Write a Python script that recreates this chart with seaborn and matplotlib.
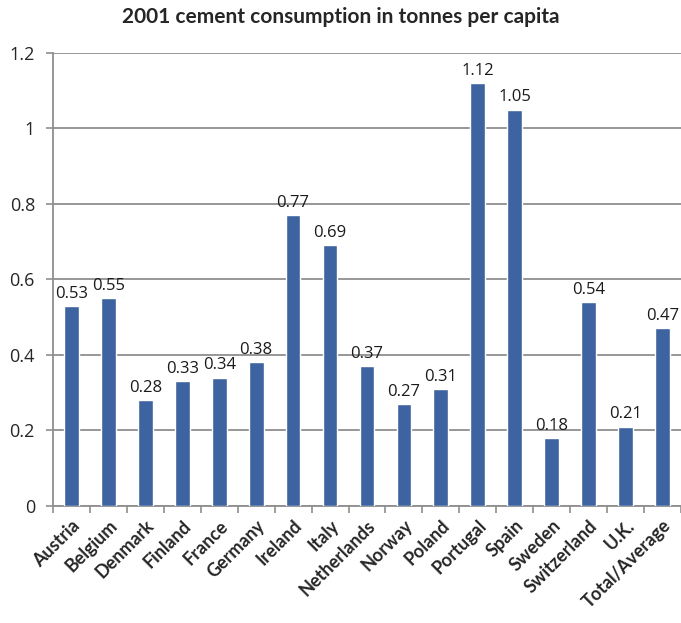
import matplotlib
matplotlib.use("Agg")
import matplotlib.pyplot as plt
import seaborn as sns
import pandas as pd

countries = ["Austria", "Belgium", "Denmark", "Finland", "France", "Germany",
             "Ireland", "Italy", "Netherlands", "Norway", "Poland", "Portugal",
             "Spain", "Sweden", "Switzerland", "U.K.", "Total/Average"]
consumption = [0.53, 0.55, 0.28, 0.33, 0.34, 0.38, 0.77, 0.69, 0.37, 0.27,
               0.31, 1.12, 1.05, 0.18, 0.54, 0.21, 0.47]
y_ticks = [0, 0.2, 0.4, 0.6, 0.8, 1, 1.2]
y_tick_labels = ["0", "0.2", "0.4", "0.6", "0.8", "1", "1.2"]
title = "2001 cement consumption in tonnes per capita"

df = pd.DataFrame({"country": countries, "t": consumption})

sns.set_style("white")
plt.rcParams["font.family"] = ["Lato", "DejaVu Sans"]

fig = plt.figure(figsize=(6.81, 6.23), dpi=100)
ax = fig.add_axes([0.0778, 0.188, 0.9222, 0.727])

bar_color = "#3D64A0"
sns.barplot(data=df, x="country", y="t", color=bar_color, width=0.4,
            saturation=1, ax=ax, zorder=3)

labels = [f"{v:.2f}" for v in consumption]
ax.bar_label(ax.containers[0], labels=labels, padding=3, fontsize=12,
             family="Open Sans", color="#1a1a1a")

ax.set_ylim(0, 1.2)
ax.set_xlim(-0.5, len(countries) - 0.5)
ax.set_yticks(y_ticks)
ax.set_yticklabels(y_tick_labels, fontsize=13, family="Open Sans")
ax.yaxis.grid(True, color="#8f8f8f", linewidth=1.3, zorder=0)
ax.set_axisbelow(True)

# Category labels at bar centres, tick marks between categories
ax.set_xticks(range(len(countries)))
ax.set_xticklabels(countries, rotation=45, ha="right", rotation_mode="anchor",
                   fontsize=13, fontweight="bold")
ax.tick_params(axis="x", length=0, pad=8)
ax.set_xticks([i - 0.5 for i in range(len(countries) + 1)], minor=True)
ax.tick_params(axis="x", which="minor", length=5, color="#8f8f8f", width=1.2,
               direction="out", bottom=True)
ax.tick_params(axis="y", length=5, color="#8f8f8f", width=1.2, left=True,
               direction="out", pad=8)

ax.set_xlabel("")
ax.set_ylabel("")
for side in ["top", "right"]:
    ax.spines[side].set_visible(False)
for side in ["left", "bottom"]:
    ax.spines[side].set_color("#8f8f8f")
    ax.spines[side].set_linewidth(1.3)

fig.text(0.5, 0.972, title, ha="center", va="center", fontsize=15,
         fontweight="bold")

fig.savefig("out.png", dpi=100)
